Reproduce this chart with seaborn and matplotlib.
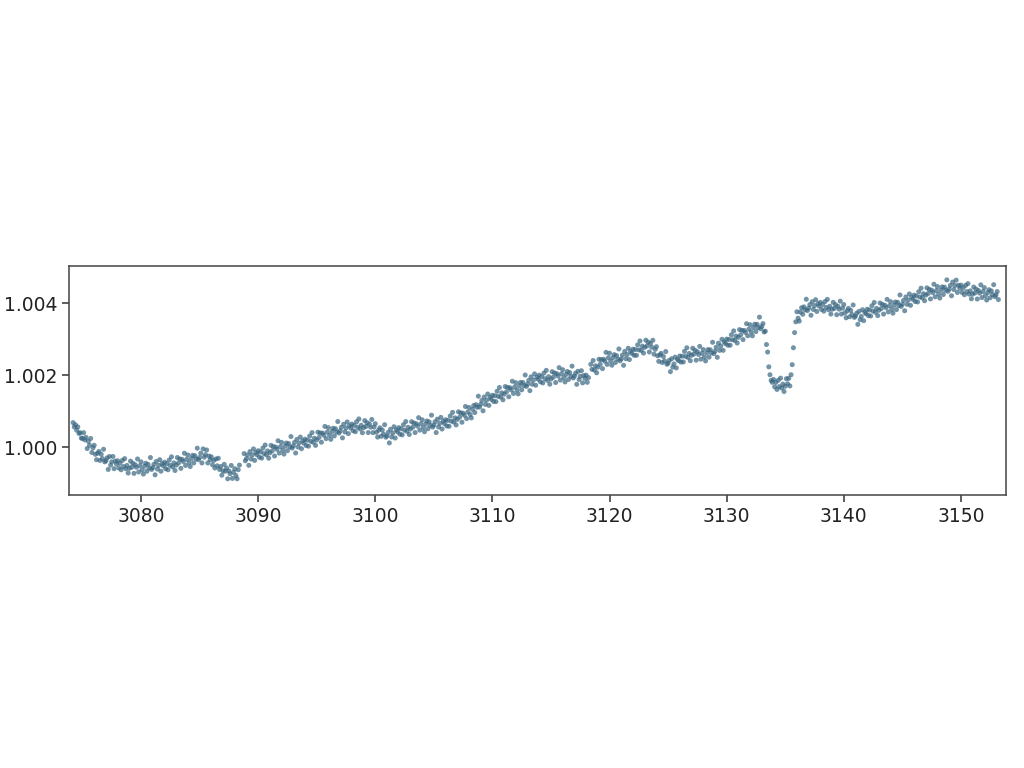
import numpy as np
import pandas as pd
import matplotlib
matplotlib.use("Agg")
import matplotlib.pyplot as plt
from matplotlib.ticker import FormatStrFormatter
import seaborn as sns

# Light curve: relative flux in ppm above 1.0,
# one row per day, sampled every 0.1 day starting at t0 (nan = no data)
t0 = 3074.0
cadence = 0.1
flux_ppm = [
    np.nan, np.nan, 680, 560, 620, 470, 560, 380, 400, 250,            # 3074
    240, 400, 200, 270, -40, 160, 50, 240, -150, -20,                   # 3075
    50, -200, -350, -170, -120, -370, -200, -320, -60, -410,            # 3076
    -380, -300, -620, -260, -500, -410, -260, -600, -390, -470,         # 3077
    -380, -580, -450, -630, -370, -540, -320, -600, -510, -720,         # 3078
    -590, -390, -560, -450, -730, -490, -560, -330, -690, -520,         # 3079
    -410, -630, -750, -530, -450, -670, -480, -580, -290, -620,         # 3080
    -570, -480, -770, -400, -610, -510, -350, -670, -460, -520,         # 3081
    -420, -600, -460, -630, -360, -510, -270, -550, -440, -650,         # 3082
    -500, -290, -440, -330, -590, -340, -400, -170, -510, -340,         # 3083
    -220, -430, -540, -320, -230, -440, -240, -330, -30, -350,          # 3084
    -290, -170, -440, -50, -280, -210, -80, -440, -250, -350,           # 3085
    -270, -490, -370, -580, -330, -520, -310, -620, -540, -780,         # 3086
    -660, -480, -670, -580, -880, -660, -740, -510, -870, -700,         # 3087
    -600, -790, -880, -630, -500, np.nan, np.nan, np.nan, -180, -380,   # 3088
    -320, -218, -506, -124, -332, -220, -50, -370, -150, -210,          # 3089
    -100, -282, -134, -306, -28, -180, 58, -214, -106, -308,            # 3090
    -160, 48, -104, 14, -248, 0, -62, 176, -166, 12,                    # 3091
    130, -82, -194, 24, 112, -100, 98, 6, 294, -28,                     # 3092
    30, 128, -164, 214, 2, 110, 278, -44, 174, 112,                     # 3093
    220, 42, 194, 26, 308, 160, 402, 134, 246, 48,                      # 3094
    200, 414, 268, 392, 136, 390, 332, 574, 236, 418,                   # 3095
    540, 328, 216, 434, 522, 310, 510, 420, 710, 390,                   # 3096
    450, 548, 256, 634, 422, 530, 698, 376, 594, 532,                   # 3097
    640, 456, 602, 428, 704, 550, 782, 504, 606, 398,                   # 3098
    540, 736, 572, 678, 404, 640, 554, 768, 402, 556,                   # 3099
    650, 414, 278, 472, 536, 300, 474, 358, 622, 276,                   # 3100
    310, 408, 116, 494, 282, 390, 566, 252, 478, 424,                   # 3101
    540, 360, 510, 340, 620, 470, 710, 440, 550, 350,                   # 3102
    500, 706, 552, 668, 404, 650, 584, 818, 472, 646,                   # 3103
    760, 544, 428, 642, 726, 510, 702, 604, 886, 558,                   # 3104
    610, 702, 404, 776, 558, 660, 826, 502, 718, 654,                   # 3105
    760, 586, 742, 578, 864, 720, 964, 698, 812, 616,                   # 3106
    770, 980, 830, 950, 690, 940, 884, 1128, 792, 976,                  # 3107
    1100, 906, 812, 1048, 1154, 960, 1178, 1106, 1414, 1112,            # 3108
    1190, 1294, 1008, 1392, 1186, 1300, 1474, 1158, 1382, 1326,         # 3109
    1440, 1268, 1426, 1264, 1552, 1410, 1656, 1392, 1508, 1314,         # 3110
    1470, 1682, 1534, 1656, 1398, 1650, 1590, 1830, 1490, 1670,         # 3111
    1790, 1584, 1478, 1702, 1796, 1590, 1794, 1708, 2002, 1686,         # 3112
    1750, 1854, 1568, 1952, 1746, 1860, 2034, 1718, 1942, 1886,         # 3113
    2000, 1814, 1958, 1782, 2056, 1900, 2132, 1854, 1956, 1748,         # 3114
    1890, 2096, 1942, 2058, 1794, 2040, 1974, 2208, 1862, 2036,         # 3115
    2150, 1930, 1810, 2020, 2100, 1880, 2070, 1970, 2250, 1920,         # 3116
    1970, 2052, 1744, 2106, 1878, 1970, 2122, 1784, 1986, 1908,         # 3117
    2000, 1800, 1930, np.nan, 2300, 2160, 2406, 2142, 2258, 2064,       # 3118
    2220, 2440, 2300, 2430, 2180, 2440, 2386, 2632, 2298, 2484,         # 3119
    2610, 2392, 2274, 2486, 2568, 2350, 2542, 2444, 2726, 2398,         # 3120
    2450, 2556, 2272, 2658, 2454, 2570, 2746, 2432, 2658, 2604,         # 3121
    2720, 2550, 2710, 2550, 2840, 2700, 2948, 2686, 2804, 2612,         # 3122
    2770, 2970, 2810, 2915, 2642, 2880, 2774, 2968, 2582, 2716,         # 3123
    2790, 2536, 2382, 2558, 2604, 2350, 2518, 2396, 2654, 2302,         # 3124
    2330, 2408, 2096, 2454, 2222, 2310, 2500, 2200, 2440, 2400,         # 3125
    2530, 2362, 2524, 2366, 2658, 2520, 2760, 2490, 2600, 2400,         # 3126
    2550, 2746, 2582, 2688, 2414, 2650, 2574, 2798, 2442, 2606,         # 3127
    2710, 2502, 2394, 2616, 2708, 2500, 2704, 2618, 2912, 2596,         # 3128
    2660, 2772, 2494, 2886, 2688, 2810, 2994, 2688, 2922, 2876,         # 3129
    3000, 2830, 2990, 2830, 3120, 2980, 3228, 2966, 3084, 2892,         # 3130
    3050, 3264, 3118, 3242, 2986, 3240, 3184, 3428, 3092, 3276,         # 3131
    3400, 3196, 3092, 3318, 3414, 3210, 3410, 3320, 3610, 3290,         # 3132
    3350, 3430, 3200, 3220, 2850, 2640, 2230, 2010, 1850, 1800,         # 3133
    1880, 1674, 1798, 1602, 1856, 1680, 1916, 1642, 1748, 1544,         # 3134
    1690, 1900, 1760, 1910, 1700, 2010, 2290, 2760, 3180, 3480,         # 3135
    3760, 3580, 3500, 3750, 3870, 3690, 3896, 3812, 4108, 3794,         # 3136
    3860, 3956, 3662, 4038, 3824, 3930, 4094, 3768, 3982, 3916,         # 3137
    4020, 3826, 3962, 3778, 4044, 3880, 4104, 3818, 3912, 3696,         # 3138
    3830, 4022, 3854, 3956, 3678, 3910, 3832, 4054, 3696, 3858,         # 3139
    3960, 3726, 3592, 3788, 3854, 3620, 3796, 3682, 3948, 3604,         # 3140
    3640, 3720, 3410, 3770, 3540, 3630, 3816, 3512, 3748, 3704,         # 3141
    3830, 3654, 3808, 3642, 3926, 3780, 4018, 3746, 3854, 3652,         # 3142
    3800, 4004, 3848, 3962, 3696, 3940, 3872, 4104, 3756, 3928,         # 3143
    4040, 3830, 3720, 3940, 4030, 3820, 4022, 3934, 4226, 3908,         # 3144
    3970, 4074, 3788, 4172, 3966, 4080, 4254, 3938, 4162, 4106,         # 3145
    4220, 4044, 4198, 4032, 4316, 4170, 4414, 4148, 4262, 4066,         # 3146
    4220, 4424, 4268, 4382, 4116, 4360, 4292, 4524, 4176, 4348,         # 3147
    4460, 4250, 4140, 4360, 4450, 4240, 4442, 4354, 4646, 4328,         # 3148
    4390, 4492, 4204, 4586, 4378, 4490, 4638, 4296, 4494, 4412,         # 3149
    4500, 4298, 4426, 4234, 4492, 4320, 4540, 4250, 4340, 4120,         # 3150
    4250, 4446, 4282, 4388, 4114, 4350, 4278, 4506, 4154, 4322,         # 3151
    4430, 4208, 4086, 4294, 4372, 4150, 4338, 4236, 4512, 4182,         # 3152
    4230, 4320, 4100,                                                   # 3153
]

x_ticks = [3080, 3090, 3100, 3110, 3120, 3130, 3140, 3150]
y_ticks = [1.000, 1.002, 1.004]

time = t0 + cadence * np.arange(len(flux_ppm))
flux = 1.0 + np.array(flux_ppm, dtype=float) * 1e-6
df = pd.DataFrame({"time": time, "flux": flux}).dropna()

sns.set_style("ticks")
plt.rcParams["font.family"] = ["DejaVu Sans"]

fig = plt.figure(figsize=(10.24, 7.68), dpi=100)
ax = fig.add_axes([0.0674, 0.3555, 0.9150, 0.2981])

sns.scatterplot(data=df, x="time", y="flux", ax=ax, s=13, marker="o",
                color="#386580", edgecolor="none", alpha=0.7, legend=False)

ax.set_xlim(3073.85, 3153.85)
ax.set_ylim(0.99867, 1.00503)
ax.set_xticks(x_ticks)
ax.set_yticks(y_ticks)
ax.yaxis.set_major_formatter(FormatStrFormatter("%.3f"))
ax.set_xlabel("")
ax.set_ylabel("")
ax.tick_params(axis="both", labelsize=13.5, length=5, width=1.1,
               color="#333333", labelcolor="#222222", direction="out")
for sp in ax.spines.values():
    sp.set_visible(True)
    sp.set_linewidth(1.1)
    sp.set_color("#444444")

fig.savefig("out.png", dpi=100, facecolor="white")
